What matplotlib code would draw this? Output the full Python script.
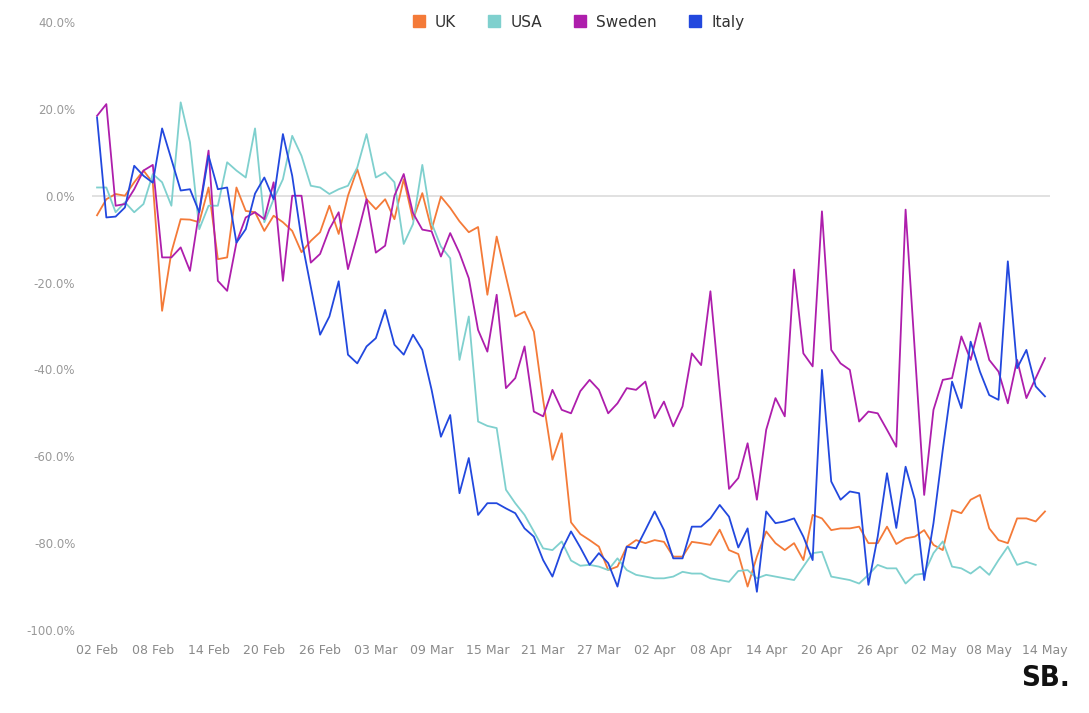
import numpy as np
import matplotlib.pyplot as plt
from matplotlib.lines import Line2D

# daily change vs baseline (%), 02 Feb .. 14 May 2020
uk = [-4.5, -0.8, 0.4, 0, 3.1, 5.8, 3, -26.5, -13, -5.4,
      -5.5, -6.1, 1.9, -14.6, -14.2, 1.9, -3.5, -3.8, -8.1, -4.6,
      -6.1, -8.1, -13, -10.4, -8.4, -2.3, -8.8, 0, 6.1, -0.8,
      -3.1, -0.8, -5.4, 3.8, -5.5, 0.6, -7.8, -0.2, -2.8, -5.9,
      -8.4, -7.2, -22.8, -9.4, -18.6, -27.8, -26.7, -31.3, -47, -60.8,
      -54.7, -75.2, -77.9, -79.3, -80.8, -86.2, -85.4, -80.8, -79.3, -80,
      -79.3, -79.7, -83.1, -83.1, -79.7, -80, -80.4, -76.9, -81.6, -82.5,
      -90, -83.1, -77.3, -80, -81.6, -80, -83.9, -73.5, -74.3, -77,
      -76.6, -76.6, -76.2, -80, -80, -76.2, -80.2, -78.9, -78.5, -77,
      -80.4, -81.6, -72.4, -73.1, -70, -68.9, -76.6, -79.3, -80, -74.3,
      -74.3, -75, -72.7]
usa = [1.9, 1.9, -3.8, -1.5, -3.8, -1.9, 5, 3.1, -2.3, 21.5,
       12.3, -7.7, -2.3, -2.3, 7.7, 5.8, 4.2, 15.5, -6.1, -0.8,
       3.8, 13.8, 9.2, 2.3, 1.9, 0.4, 1.5, 2.3, 6.5, 14.2,
       4.2, 5.4, 3.1, -11.1, -6.5, 7.1, -6.3, -11.7, -14.4, -37.8,
       -27.8, -52, -53, -53.5, -67.7, -70.8, -73.5, -77.3, -81.2, -81.6,
       -79.6, -84, -85.2, -85, -85.4, -86.2, -83.5, -86.2, -87.3, -87.7,
       -88.1, -88.1, -87.7, -86.6, -87, -87, -88.1, -88.5, -88.9, -86.4,
       -86.2, -88.1, -87.3, -87.7, -88.1, -88.5, -85.4, -82.3, -82, -87.7,
       -88.1, -88.5, -89.3, -87.3, -85, -85.8, -85.8, -89.3, -87.3, -87,
       -82.3, -79.6, -85.4, -85.8, -87, -85.4, -87.3, -83.9, -80.8, -85,
       -84.3, -85]
sweden = [18.4, 21.1, -2.3, -1.9, 1.5, 5.8, 7.1, -14.2, -14.2, -11.9,
          -17.3, -3.5, 10.4, -19.6, -21.9, -10.8, -5, -3.8, -5.4, 3.1,
          -19.6, 0, 0, -15.4, -13.4, -7.7, -3.8, -16.9, -9.2, -0.8,
          -13.1, -11.5, 0, 5, -4, -7.8, -8.2, -14, -8.6, -13.2,
          -19, -30.9, -35.9, -22.8, -44.3, -42, -34.7, -49.7, -50.8, -44.7,
          -49.3, -50.1, -45, -42.4, -44.7, -50.1, -47.8, -44.3, -44.7, -42.8,
          -51.2, -47.4, -53.1, -48.5, -36.3, -39, -22, -45, -67.5, -65,
          -57, -70, -53.9, -46.6, -50.8, -17, -36.3, -39.3, -3.6, -35.5,
          -38.6, -40.1, -52, -49.7, -50.1, -53.9, -57.8, -3.2, -36, -68.9,
          -49.3, -42.4, -42, -32.4, -37.8, -29.3, -37.8, -40.5, -47.8, -37.8,
          -46.6, -42, -37.4]
italy = [18, -5, -4.8, -2.7, 6.9, 4.6, 3, 15.5, 8.4, 1.2,
         1.5, -3.8, 9.2, 1.5, 1.9, -10.8, -7.7, 0.5, 4.2, -0.8,
         14.2, 4.6, -10, -21, -32, -27.8, -19.7, -36.6, -38.6, -34.7,
         -32.8, -26.3, -34.3, -36.6, -32, -35.5, -44.7, -55.5, -50.5, -68.5,
         -60.4, -73.5, -70.8, -70.8, -72, -73.1, -76.6, -78.5, -83.9, -87.7,
         -81.6, -77.3, -81, -85, -82.3, -84.6, -90, -80.8, -81.2, -77,
         -72.7, -77, -83.5, -83.5, -76.2, -76.2, -74.3, -71.2, -73.9, -81,
         -76.6, -91.2, -72.7, -75.4, -75, -74.3, -78.5, -83.9, -40.1, -65.8,
         -70, -68.1, -68.5, -89.6, -78.5, -63.9, -76.5, -62.4, -70, -88.5,
         -75.4, -58.5, -42.8, -48.9, -33.6, -40.5, -45.9, -47, -15.1, -39.7,
         -35.5, -43.9, -46.2]

tick_labels = ["02 Feb", "08 Feb", "14 Feb", "20 Feb", "26 Feb", "03 Mar",
               "09 Mar", "15 Mar", "21 Mar", "27 Mar", "02 Apr", "08 Apr",
               "14 Apr", "20 Apr", "26 Apr", "02 May", "08 May", "14 May"]
y_ticks = [40, 20, 0, -20, -40, -60, -80, -100]

series = [("UK", uk, "#F47A38"), ("USA", usa, "#7FD0CE"),
          ("Sweden", sweden, "#AE1EAC"), ("Italy", italy, "#2248DE")]

fig = plt.figure(figsize=(10.89, 7.13), dpi=100)
ax = fig.add_axes([0.0845, 0.1164, 0.8797, 0.8527])

ax.axhline(0, color="#dcdcdc", lw=1.2, zorder=0)
for name, vals, col in series:
    ax.plot(np.arange(len(vals)), vals, color=col, lw=1.3)

ax.set_xlim(-0.54, 102.54)
ax.set_ylim(-100, 40)
ax.set_xticks(np.arange(0, 103, 6))
ax.set_xticklabels(tick_labels)
ax.set_yticks(y_ticks)
ax.set_yticklabels([f"{v:.1f}%" for v in y_ticks])
ax.tick_params(length=0, colors="#8a8a8a", labelsize=9)
ax.tick_params(axis="y", colors="#999999", labelsize=8.5, pad=12)
ax.tick_params(axis="x", pad=10)
for s in ax.spines.values():
    s.set_visible(False)

handles = [Line2D([], [], marker="s", ls="none", color=c, markersize=8)
           for _, _, c in series]
fig.legend(handles, [n for n, _, _ in series], loc="center",
           bbox_to_anchor=(0.527, 0.969), ncol=4, frameon=False,
           handletextpad=0.05, columnspacing=1.5, fontsize=11,
           labelcolor="#333333")

fig.text(0.982, 0.03, "SB.", ha="right", va="bottom", fontsize=21,
         fontweight="bold", fontstretch="condensed", color="#111111")

fig.savefig("out.png", dpi=100)
